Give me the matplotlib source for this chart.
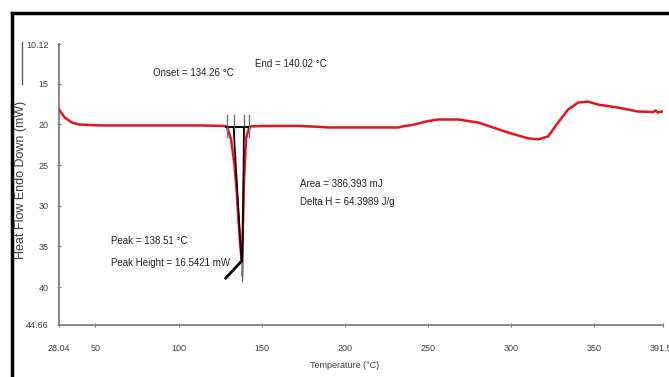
import numpy as np
import matplotlib
matplotlib.use("Agg")
import matplotlib.pyplot as plt
from matplotlib.lines import Line2D

plt.rcParams['font.family'] = ['Liberation Sans', 'DejaVu Sans']

# ---- data ----
temp = [28.04, 31.5, 35.7, 39.9, 51.9, 82.0, 112.0, 127.0, 129.0, 131.6, 133.6,
        134.9, 136.6, 138.0, 138.6, 139.4, 140.6, 142.2, 143.4, 150.0, 172.1,
        184.1, 190.1, 232.2, 236.0, 240.0, 244.2, 250.0, 256.3, 268.3, 280.3,
        298.3, 310.3, 316.3, 322.4, 328.4, 334.4, 340.4, 346.4, 352.4, 364.4,
        376.4, 382.0, 385.5, 387.0, 388.5, 390.3, 391.5]
heat = [18.18, 19.16, 19.77, 20.01, 20.13, 20.13, 20.13, 20.19, 20.25, 21.84,
        24.9, 27.95, 33.44, 36.9, 33.3, 26.8, 21.7, 20.6, 20.25, 20.2, 20.19,
        20.3, 20.38, 20.38, 20.2, 20.1, 19.9, 19.6, 19.4, 19.4, 19.77,
        21.0, 21.72, 21.84, 21.48, 19.77, 18.18, 17.32, 17.2, 17.57, 17.93,
        18.42, 18.45, 18.5, 18.3, 18.55, 18.42, 18.45]

xticks = [28.04, 50, 100, 150, 200, 250, 300, 350, 391.52]
xtick_labels = ["28.04", "50", "100", "150", "200", "250", "300", "350", "391.52"]
yticks = [10.12, 15, 20, 25, 30, 35, 40, 44.66]
ytick_labels = ["10.12", "15", "20", "25", "30", "35", "40", "44.66"]

# integration construction (black / grey lines)
base_x = [128.8, 142.1]
base_y = [20.38, 20.38]
marks_x = [129.4, 133.1, 139.1, 142.1]
left_tan = ([133.1, 137.9], [20.38, 36.9])
right_tan = ([139.3, 138.4], [20.38, 38.6])
peak_tail = ([137.0, 128.4], [37.0, 38.9])

fig = plt.figure(figsize=(6.69, 3.77), dpi=100)
ax = fig.add_axes([59 / 669, 1 - 325 / 377, (663 - 59) / 669, (325 - 44) / 377])

ax.plot(temp, heat, color='#e8141c', lw=1.8, zorder=3)

# construction lines
ax.plot(base_x, base_y, color='black', lw=1.5, zorder=4)
for mx in marks_x:
    ax.plot([mx, mx], [18.8, 21.6], color='#707070', lw=1.0, zorder=4)
ax.plot(*left_tan, color='black', lw=1.2, zorder=4)
ax.plot(*right_tan, color='black', lw=1.2, zorder=4)
ax.plot(*peak_tail, color='black', lw=2.0, zorder=4)
ax.plot([138.1, 138.1], [36.9, 39.3], color='#707070', lw=1.0, zorder=4)

ax.set_xlim(28.04, 391.52)
ax.set_ylim(44.66, 10.12)
ax.set_xticks(xticks)
ax.set_xticklabels(xtick_labels)
ax.set_yticks(yticks)
ax.set_yticklabels(ytick_labels)

for s in ['top', 'right']:
    ax.spines[s].set_visible(False)
for s in ['left', 'bottom']:
    ax.spines[s].set_color('#808080')
    ax.spines[s].set_linewidth(1.3)
ax.tick_params(colors='#808080', labelcolor='#404040', labelsize=6.5, length=3,
               direction='inout')
ax.tick_params(axis='x', pad=12)
ax.tick_params(axis='y', pad=6)

txt = dict(fontsize=7, color='#222222')
ax.text(84.4, 13.66, "Onset = 134.26 °C", va='center', **txt)
ax.text(145.7, 12.56, "End = 140.02 °C", va='center', **txt)
ax.text(173.3, 27.3, "Area = 386.393 mJ", va='center', **txt)
ax.text(173.3, 29.5, "Delta H = 64.3989 J/g", va='center', **txt)
ax.text(59.1, 34.3, "Peak = 138.51 °C", va='center', **txt)
ax.text(59.1, 37.0, "Peak Height = 16.5421 mW", va='center', **txt)

fig.text(345 / 669, 1 - 366 / 377, "Temperature (°C)", ha='center', va='center',
         fontsize=6.5, color='#404040')
fig.text(21 / 669, 1 - 180 / 377, "Heat Flow Endo Down (mW)", rotation=90,
         ha='center', va='center', fontsize=9, color='#404040')
fig.add_artist(Line2D([22 / 669, 22 / 669], [1 - 42 / 377, 1 - 84 / 377],
                      color='#606060', lw=1.0))

# black frame around the picture
fl, ft = 12 / 669, 1 - 13 / 377
fig.add_artist(Line2D([fl, fl], [0, ft], color='black', lw=2.5))
fig.add_artist(Line2D([fl, 1], [ft, ft], color='black', lw=2.5))

fig.savefig("out.png", dpi=100)
